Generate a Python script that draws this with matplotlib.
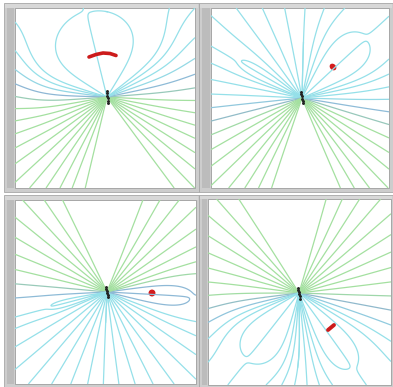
import numpy as np
import matplotlib.pyplot as plt
from matplotlib.patches import Rectangle, Ellipse
from matplotlib.colors import LinearSegmentedColormap

W, H = 393, 387

# window frames and white drawing areas, in pixels (left, top, right, bottom)
frames = [(4, 3, 199, 192), (199, 3, 393, 192),
          (4, 195, 199, 387), (199, 195, 393, 387)]
areas = [(15, 8, 195, 188), (211, 8, 389, 188),
         (15, 200, 196, 384), (208, 199, 391, 385)]

# position of the source in each panel
centers = [(107, 97), (302, 98), (107, 292), (299, 293)]

# direction (deg) and half width (deg) of the empty wedge
gap_dir = [-79, -88, 92, 98]
gap_width = [25, 20, 22, 23]

# closed loops: fold direction (deg), reach (px), half width (deg)
loops = [
    [(104, 84, 29)],
    [(150, 73, 5), (43, 86, 13)],
    [(-165, 62, 4), (-3, 88, 8)],
    [(-128, 86, 16), (-54, 94, 11)],
]

# side of the cyan lines, width of that sector (deg) and how thin they are
cyan_dir = [90, 90, -90, -90]
cyan_half = [72, 95, 95, 82]
cyan_thin = [0.4, 0.4, 0.1, 0.1]

# path of the source (black dots)
path_x = [[107, 107, 107, 107.5, 108, 108],
          [301, 301, 301.5, 302, 302.5, 303],
          [106, 106, 106.5, 107, 107.5, 108],
          [298, 298, 298.5, 299, 299.5, 300]]
path_y = [[91, 93, 95.5, 98, 100.5, 103],
          [92, 94, 96, 98.5, 101, 103],
          [287, 289, 291, 293, 295, 297],
          [288, 290, 292, 294, 296.5, 299]]

# red probe marks
arc_x = [89, 96, 103, 110, 116]
arc_y = [57, 54.5, 53, 53.5, 55.5]
dot2 = (333, 67)
dot3 = (152, 293)
dash_x = [328, 334]
dash_y = [330, 325]

N_LINES = 36
LOOP_K = 6.0
SPREAD = 2.0

cmap = LinearSegmentedColormap.from_list(
    "field", ["#95e0e9", "#8db3d3", "#a4e0a0"])


def wrap(a):
    return (a + np.pi) % (2 * np.pi) - np.pi


def gap_profile(w):
    d = np.linspace(-np.pi, np.pi, 4001)
    b = np.exp(-np.abs(d / w) ** 6)
    bbar = b.mean()
    F = np.cumsum(b - bbar) * (d[1] - d[0])
    F -= np.interp(0.0, d, F)
    return d, F, bbar


def loop_profile(w):
    # narrow bump balanced by a wider shallow one, so the fold stays local
    d = np.linspace(-np.pi, np.pi, 4001)
    b = np.exp(-(d / w) ** 2) - np.exp(-(d / (SPREAD * w)) ** 2) / SPREAD
    F = np.cumsum(b - b.mean()) * (d[1] - d[0])
    F -= np.interp(0.0, d, F)
    return d, F


def deform(u, v, k):
    r = np.hypot(u, v)
    th = np.arctan2(v, u)
    out = np.zeros_like(th)
    # fewer lines on the cyan side
    cd = np.radians(cyan_dir[k])
    out -= cyan_thin[k] * np.sin(th - cd)
    # empty wedge
    gd = np.radians(gap_dir[k])
    d0, F0, b0 = gap_profile(np.radians(gap_width[k]))
    depth = 0.97 * (1 - cyan_thin[k] * np.cos(gd - cd)) / (1 - b0)
    out -= depth * np.interp(wrap(th - gd), d0, F0)
    # folds that close into loops
    for g, reach, hw in loops[k]:
        d1, F1 = loop_profile(np.radians(hw))
        R = reach / np.log(LOOP_K * (1 - 1 / SPREAD)) ** 0.25
        out -= LOOP_K * np.exp(-(r / R) ** 4) * np.interp(
            wrap(th - np.radians(g)), d1, F1)
    return th, out


def psi_ray(k, ang, rad):
    a = np.radians(ang)
    t, e = deform(rad * np.cos(a), rad * np.sin(a), k)
    return t + e


fig = plt.figure(figsize=(W / 100, H / 100), dpi=100)
bg = fig.add_axes([0, 0, 1, 1])
bg.set_xlim(0, W)
bg.set_ylim(H, 0)
bg.set_axis_off()

for (fl, ft, fr, fb), (al, at, ar, ab) in zip(frames, areas):
    bg.add_patch(Rectangle((fl, ft), fr - fl, fb - ft, fc="#cdcdcd",
                           ec="#a8a8a8", lw=0.6))
    bg.add_patch(Rectangle((fl + 3, at), al - fl - 4, ab - at, fc="#bcbcbc",
                           ec="none"))
    bg.add_patch(Rectangle((fl + 1, ft + 1), fr - fl - 2, at - ft - 1,
                           fc="#d8d8d8", ec="none"))
    bg.add_patch(Rectangle((al, at), ar - al, ab - at, fc="white",
                           ec="#9c9c9c", lw=0.6))

for k, (al, at, ar, ab) in enumerate(areas):
    ax = fig.add_axes([al / W, 1 - ab / H, (ar - al) / W, (ab - at) / H])
    ax.set_xlim(al, ar)
    ax.set_ylim(ab, at)
    ax.set_axis_off()

    cx, cy = centers[k]
    xs = np.linspace(al, ar, 540)
    ys = np.linspace(at, ab, 540)
    X, Y = np.meshgrid(xs, ys)
    th, ext = deform(X - cx, cy - Y, k)
    psi_a = th + ext
    psi_b = np.mod(th, 2 * np.pi) + ext

    step = 2 * np.pi / N_LINES
    # no line runs through the middle of the wedge
    base = psi_ray(k, gap_dir[k], 20.0) + step / 2 + np.arange(N_LINES) * step
    keep = np.ones(N_LINES, bool)
    chosen = []
    for g, reach, hw in loops[k]:
        val = psi_ray(k, g, 0.9 * reach) + 0.003
        # one loop per fold: drop the other levels caught inside it
        da = np.linspace(-2.5 * hw, 2.5 * hw, 801)
        h = psi_ray(k, g + da, 0.25 * reach)
        h = val + wrap(h - val)
        lo = h[da >= 0].min()
        hi = h[da <= 0].max()
        off = wrap(base - val)
        keep &= ~((off > lo - val) & (off < hi - val))
        chosen.append(val)
    base = np.mod(np.concatenate([base[keep], chosen]), 2 * np.pi)

    lv, cols = [], []
    for c in base:
        dd = abs(wrap(c - np.radians(cyan_dir[k])))
        t = np.clip((np.degrees(dd) - cyan_half[k] + 15) / 30, 0, 1)
        for n in (-2, -1, 0, 1, 2):
            lv.append(c + 2 * np.pi * n)
            cols.append(cmap(t))
    order = np.argsort(lv)
    lv = np.array(lv)[order]
    cols = [cols[i] for i in order]

    U = X - cx
    za = np.ma.masked_where(U < -1.5, psi_a)
    zb = np.ma.masked_where(U > 1.5, psi_b)
    ax.contour(X, Y, za, levels=lv, colors=cols, linewidths=0.9)
    ax.contour(X, Y, zb, levels=lv, colors=cols, linewidths=0.9)

    ax.plot(path_x[k], path_y[k], ".", color="#222222", ms=2.2)

    if k == 0:
        ax.plot(arc_x, arc_y, color="#cc1b1b", lw=2.6, solid_capstyle="round")
    elif k == 1:
        ax.add_patch(Ellipse(dot2, 6, 4.5, angle=45, color="#d41c1c"))
    elif k == 2:
        ax.add_patch(Ellipse(dot3, 5.5, 5.5, color="#d41c1c"))
    else:
        ax.plot(dash_x, dash_y, color="#cc1b1b", lw=2.8, solid_capstyle="round")

fig.savefig("out.png", dpi=100)
